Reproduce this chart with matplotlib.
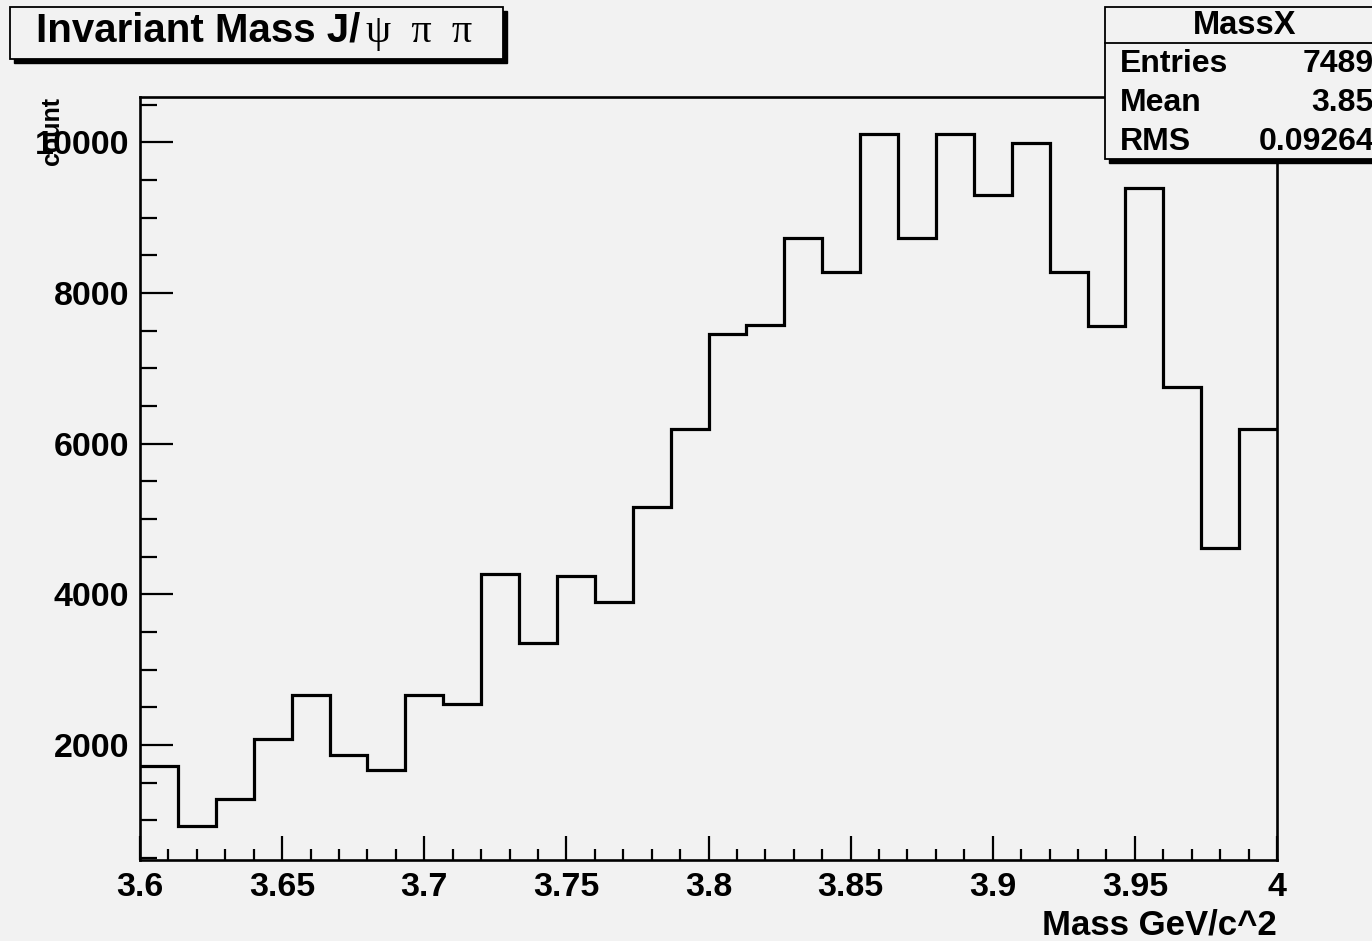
import matplotlib
matplotlib.use("Agg")
import matplotlib.pyplot as plt
import numpy as np
from matplotlib.patches import Rectangle
from matplotlib.lines import Line2D
from matplotlib.ticker import MultipleLocator

# histogram contents, 30 bins over the J/psi pi pi mass window
x_min, x_max, n_bins = 3.6, 4.0, 30
counts = [1720, 928, 1278, 2078, 2658, 1862, 1667, 2662, 2551, 4266,
          3355, 4240, 3893, 5159, 6190, 7450, 7569, 8723, 8272, 10115,
          8723, 10115, 9306, 9983, 8272, 7556, 9386, 6747, 4611, 6190]
x_ticks = [3.6, 3.65, 3.7, 3.75, 3.8, 3.85, 3.9, 3.95, 4.0]
x_tick_labels = ["3.6", "3.65", "3.7", "3.75", "3.8", "3.85", "3.9", "3.95", "4"]
y_ticks = [2000, 4000, 6000, 8000, 10000]

hist_name = "MassX"
stats_rows = [("Entries", "7489"), ("Mean", "3.85"), ("RMS", "0.09264")]

W, H = 1372, 941
BG = "#f2f2f2"
SANS = "Liberation Sans"

plt.rcParams["font.family"] = SANS
plt.rcParams["font.weight"] = "bold"

fig = plt.figure(figsize=(W / 100, H / 100), dpi=100, facecolor=BG)
ax = fig.add_axes([140 / W, 1 - 860 / H, (1277 - 140) / W, (860 - 97) / H])
ax.set_facecolor(BG)

edges = np.linspace(x_min, x_max, n_bins + 1)
ax.stairs(counts, edges, baseline=None, color="black", lw=2.3)

ax.set_xlim(x_min, x_max)
ax.set_ylim(475, 10600)

ax.set_xticks(x_ticks)
ax.set_xticklabels(x_tick_labels)
ax.xaxis.set_minor_locator(MultipleLocator(0.01))
ax.set_yticks(y_ticks)
ax.yaxis.set_minor_locator(MultipleLocator(500))

ax.tick_params(axis="both", which="both", direction="in", width=1.6,
               labelsize=24.5, top=False, right=False)
ax.tick_params(axis="x", which="major", length=17, pad=9)
ax.tick_params(axis="x", which="minor", length=8)
ax.tick_params(axis="y", which="major", length=24, pad=8)
ax.tick_params(axis="y", which="minor", length=12)
for lbl in ax.get_xticklabels() + ax.get_yticklabels():
    lbl.set_fontweight("bold")
for sp in ax.spines.values():
    sp.set_linewidth(1.9)


def fpx(x, y):
    return x / W, 1 - y / H


# axis titles, ROOT style: aligned to the far end of each axis
fig.text(*fpx(1277, 925), "Mass GeV/c^2", ha="right", va="center",
         fontsize=25, fontweight="bold")
fig.text(*fpx(52, 97), "count", ha="center", va="top", rotation=90,
         fontsize=18, fontweight="bold")


def shadow_box(x0, y0, x1, y1, off=4):
    w = (x1 - x0) / W
    h = (y1 - y0) / H
    sx, sy = fpx(x0 + off, y1 + off)
    fig.patches.append(Rectangle((sx, sy), w, h, transform=fig.transFigure,
                                 facecolor="black", edgecolor="black", zorder=5))
    bx, by = fpx(x0, y1)
    fig.patches.append(Rectangle((bx, by), w, h, transform=fig.transFigure,
                                 facecolor=BG, edgecolor="black", lw=1.3, zorder=6))


# title box
shadow_box(10, 7, 503, 59)
t1 = fig.text(*fpx(36, 42), "Invariant Mass J/", ha="left", va="baseline",
              fontsize=29, fontweight="bold", zorder=7)
fig.canvas.draw()
bb = t1.get_window_extent()
fig.text(bb.x1 / W + 6 / W, 1 - 42 / H, "\u03c8  \u03c0  \u03c0", ha="left",
         va="baseline", fontsize=29, fontweight="normal",
         family="Liberation Serif", zorder=7)

# statistics box
shadow_box(1105, 7, 1385, 159)
fig.lines.append(Line2D([1105 / W, 1385 / W], [1 - 43 / H, 1 - 43 / H],
                        transform=fig.transFigure, color="black", lw=1.3, zorder=7))
fig.text(*fpx(1245, 26), hist_name, ha="center", va="center",
         fontsize=23.5, fontweight="bold", zorder=7)
for i, (name, val) in enumerate(stats_rows):
    y = 64 + i * 39
    fig.text(*fpx(1120, y), name, ha="left", va="center",
             fontsize=23, fontweight="bold", zorder=7)
    fig.text(*fpx(1374, y), val, ha="right", va="center",
             fontsize=23, fontweight="bold", zorder=7)

fig.savefig("out.png", dpi=100, facecolor=BG)
